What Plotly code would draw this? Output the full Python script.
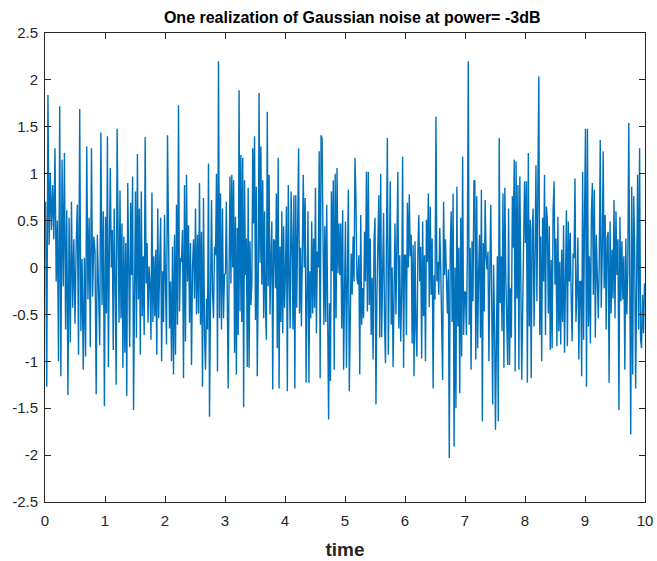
import plotly.graph_objects as go

# Values, one list per unit of time (0-1, 1-2, ... 9-10)
u0 = [0.7, -1.27, 1.84, 0.24, 1.0, 0.4, 0.88, 0.3, 1.27, -0.15, 0.5, -1.0, 1.72, -1.16, 1.15, -0.2, 1.22, -0.66,
      0.61, -1.36, 0.53, -0.8, 0.7, -0.43, 0.3, -0.6, 0.24, 0.67, -0.93, 1.69, -0.68, 0.09, -1.09, 0.1, -0.95, 1.29,
      -0.34, 0.53, -0.85, 1.27, -0.31, 0.33, 0.17, -1.35, 0.35, -0.2, -0.83, 1.44, -0.4, 0.6, -1.48]
u1 = [0.54, -0.49, 1.4, -1.06, 0.17, 1.06, 0, 0.4, -0.88, 0.63, -0.15, -1.25, 1.48, 0.06, -0.59, 0.82, -0.54, 0.47,
      -1.07, 0.33, -0.91, 0.26, -1.37, 0.9, -0.08, -0.85, 0.69, -0.08, 0.97, -1.52, -0.29, 0.81, -0.75, 1.21, -0.34,
      0.63, -0.93, 0.81, -0.52, 0.12, -0.72, 1.39, -0.17, 0.26, -0.59, 0.01, -0.18, -0.77, 0.8, -0.58, 0.12, -0.52,
      0.19, -0.93, 0.63, -0.54, 0.05, 0.53, -1.0, -0.04, -0.58, 0.56]
u2 = [-0.18, -0.82, 1.41, 0.28, -0.65, -0.15, -1.0, 0.22, -1.14, 0.35, -0.93, 0.67, -0.61, 1.73, -0.47, 0.1, 0.06,
      0.4, -1.18, 0.88, -0.79, 0.99, -0.15, 0.45, -0.59, 0.26, -1.04, 0, 0.3, -0.33, 0.63, -0.5, 0.35, -0.49, 0.9,
      -0.61, 0.38, -1.27, 0.74, -0.68, -1.09, -0.33, -0.66, 1.11, -1.59, -0.36, 0.72, -0.26, -0.54, 0.22, 0.13, 1.0,
      -1.11, 2.2, -0.54, 0.79, -0.66, 0.63, -0.54, -0.08]
u3 = [-0.06, 0.7, -0.77, -1.29, -0.04, 0.97, -0.17, 0.99, 0, 0.93, -0.91, 0.54, -1.14, 0.42, -0.72, 1.89, -0.47, 1.2,
      -0.58, 1.17, -1.49, 0.93, -0.08, 0.31, -1.06, 0.85, -1.07, 0.28, -0.4, -0.18, 1.27, 0.47, 1.4, -0.56, 0.86,
      -1.16, -0.22, 1.86, 0.05, 1.29, -0.18, 0.93, -0.54, 0.6, -0.43, -0.77, 1.66, -0.2, 0.99, -0.5, 0.08, 0.49, -1.3,
      0.3, 0.28, -0.22, 0.79, -0.86, 1.17, -1.29, 0.22, -0.58, 0.6, -0.7, 0.44, -0.43]
u4 = [-0.04, 0.65, -1.32, 0.88, -0.08, -0.65, 0.81, 0.33, -0.66, 0.77, -1.29, 0.77, -0.43, 0.7, 1.27, -0.49, 0.21,
      -0.63, 0.05, 0.99, 0, 0.74, -1.23, -0.08, 0.6, -1.23, -0.04, -0.54, 0.49, -0.49, 0.31, -0.43, 0.85, -0.7, 0.17,
      0, 1.24, -1.18, 1.41, 1.38, -0.24, -0.61, 0.44, -0.58, 0.67, -0.81, -1.62, -0.38, -1.21, 0.81, -0.04, 0.93,
      -1.09, 1.0, -0.54, 1.06, -0.06, 0.47, -0.08, 0.47, -0.65, 0.61, -1.09, -0.26]
u5 = [0.49, -1.07, -0.06, 0.83, -1.32, -0.31, 0.15, -0.29, 0.33, -0.15, 1.17, 0.74, -0.11, -0.18, 0.13, -1.14, 0.56,
      -0.61, -0.22, -0.54, 0.38, -0.15, 1.02, -0.47, 1.02, -0.4, 0.31, -0.72, -0.11, -0.98, 0.28, 0.53, -1.46, -0.29,
      0.3, 0.77, -0.75, 1.0, -0.74, 0.28, 0.58, -0.58, -1.02, 0.26, 1.38, -0.93, 0.26, 0.92, -0.61, 0, -1.06, -0.08,
      0.47, -0.5, 0.58, 1.02, -0.65, 0.13, -0.79, -0.29, 1.18, -1.07, 0.13]
u6 = [0.13, -0.72, 0.69, 0, 0.78, 0.12, 0.35, -0.81, 0.24, -1.16, 0.28, -0.68, -0.95, 0.15, 0.56, -0.15, 0.22, -0.97,
      0.49, -0.52, 0.13, -1.0, 0.51, 0.06, 0.79, -0.42, 0.65, -0.29, 0.31, -1.29, -0.08, -0.34, 1.61, -0.15, 0.06,
      -0.29, 0.42, 0, -0.66, -1.2, 0.7, -0.08, 0.3, -0.06, -0.49, -0.02, -2.03, 0.19, 0.6, -0.58, 0.79, -1.91, 0,
      -1.5, 0.86, -0.63, 0.21, -1.34, 0.53, -0.95, 1.18, -0.72, -0.26]
u7 = [-0.26, -0.72, 0.13, 2.2, -0.61, 0.21, -1.09, 0.28, -0.36, 0.92, 0.93, -0.98, 0.76, -0.86, -0.06, 0.35, -0.75,
      0.83, -1.64, 0.26, -0.47, 0.72, 0.13, -0.02, 0.17, -1.0, -0.04, 0.67, -0.38, -1.46, 0.03, -0.58, -1.73, -0.18,
      0.12, -1.64, 1.38, -0.38, 0.12, -0.68, 0.79, -1.07, 0.85, -0.08, -0.5, -1.04, 0.63, -1.04, -0.22, -0.75, 0.76,
      0.21, 1.15, -1.11, 1.13, -0.33, 0.88, -1.09, 0.97, 0.03, -1.2, -0.45, 0.26, 0.92]
u8 = [0.26, 0.92, -1.23, 1.22, -0.63, 0.51, -1.18, 0.38, 0.63, -0.63, 0.1, 1.09, -0.36, 1.0, 2.04, -0.72, 0.33, -1.0,
      0.53, -0.15, 0.99, -0.72, 0.65, 0.49, -0.49, 0.44, -0.88, 0.08, -0.86, 0.61, 0.92, -0.18, 0.31, -0.84, 0.54,
      -0.68, 0.06, -0.82, 0.19, -0.58, 0.45, -0.91, 0.24, 0.61, -0.84, 0.49, -0.15, 0.37, -0.33, -0.79, 0.15, 0.1,
      0.95, -0.58, -0.26, 0.32, -0.98, -0.15, -0.15, -1.16, 1.02, -0.77, 0.54]
u9 = [1.48, -1.27, 1.48, -0.63, 0.12, -0.81, 0.58, 0.9, -0.29, 0.83, -0.75, 0.35, -0.08, -0.54, 0.06, 1.36, -0.43,
      0.12, 1.24, -0.22, 0.56, -0.66, 0.31, 0.38, -1.23, 0.49, -0.49, 0.19, -0.33, 0.72, -0.54, 0.6, -0.08, 0.3,
      -1.52, 0.54, -0.36, 0.28, -0.34, 0.12, -1.09, 0.31, -0.5, -0.04, 1.54, -0.45, -1.78, 0.86, -1.14, 0.76, 0.21,
      -1.29, 0, 0.99, -0.66, 1.27, -0.77, -0.86, -0.29, -0.7, -0.17]

segments = [u0, u1, u2, u3, u4, u5, u6, u7, u8, u9]

x_tick_vals = [0, 1, 2, 3, 4, 5, 6, 7, 8, 9, 10]
x_tick_text = ["0", "1", "2", "3", "4", "5", "6", "7", "8", "9", "10"]
y_tick_vals = [2.5, 2, 1.5, 1, 0.5, 0, -0.5, -1, -1.5, -2, -2.5]
y_tick_text = ["2.5", "2", "1.5", "1", "0.5", "0", "-0.5", "-1", "-1.5", "-2", "-2.5"]

t, y = [], []
for k, seg in enumerate(segments):
    n = len(seg)
    for i, v in enumerate(seg):
        t.append(k + (i + 0.5) / n)
        y.append(v)

fig = go.Figure(go.Scatter(x=t, y=y, mode="lines",
                           line=dict(color="#0072BD", width=1.4), showlegend=False))

axis_common = dict(showline=True, linecolor="#262626", linewidth=1, mirror="ticks",
                   ticks="inside", ticklen=6, tickcolor="#262626", showgrid=False, zeroline=False,
                   automargin=False,
                   tickfont=dict(family="Liberation Sans, Arial", size=15, color="#262626"))

fig.update_layout(
    width=657, height=561,
    margin=dict(l=45, r=12, t=33, b=59, autoexpand=False),
    paper_bgcolor="white", plot_bgcolor="white",
    title=dict(text="<b>One realization of Gaussian noise at power= -3dB</b>",
               x=0.512, xref="paper", xanchor="center", y=1 - 17 / 561, yanchor="middle",
               font=dict(family="Liberation Sans, Arial", size=16, color="black")),
    xaxis=dict(range=[0, 10], tickvals=x_tick_vals, ticktext=x_tick_text, ticklabelstandoff=5,
               title=dict(text="<b>time</b>", standoff=14,
                          font=dict(family="Liberation Sans, Arial", size=19, color="#262626")),
               **axis_common),
    yaxis=dict(range=[-2.5, 2.5], tickvals=y_tick_vals, ticktext=y_tick_text, ticklabelstandoff=3,
               **axis_common),
)

fig.write_html("out.html")
